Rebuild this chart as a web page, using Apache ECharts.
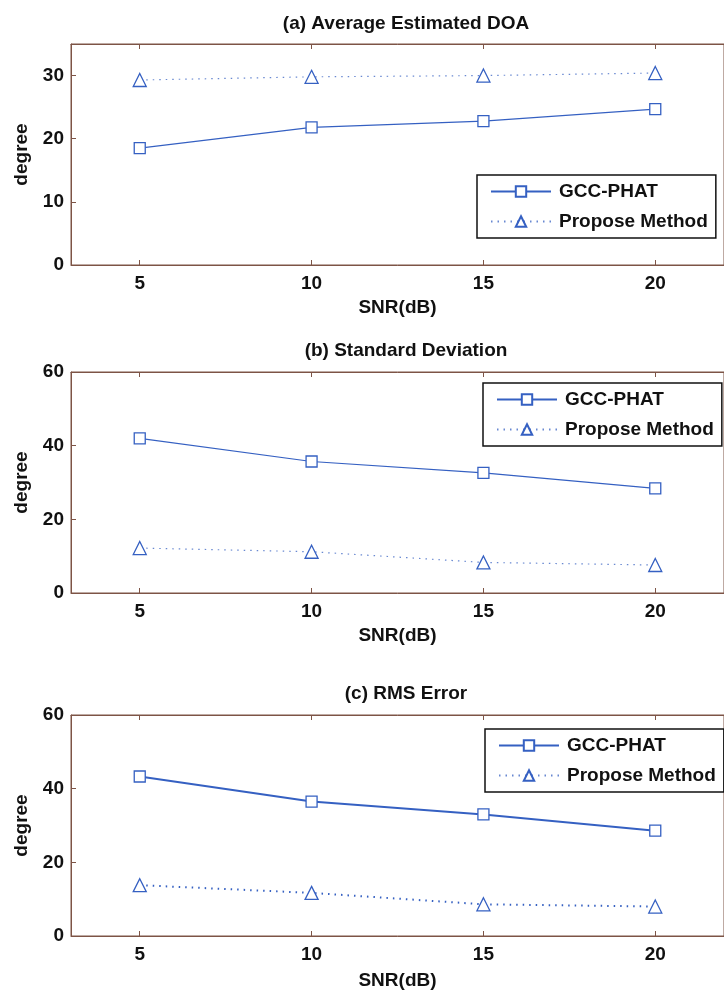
<!DOCTYPE html>
<html>
<head>
<meta charset="utf-8">
<script src="https://cdn.jsdelivr.net/npm/echarts@6/dist/echarts.min.js"></script>
<style>
  html, body { margin: 0; padding: 0; background: #ffffff; }
  #chart { width: 724px; height: 991px; }
</style>
</head>
<body>
<div id="chart"></div>
<script>
// SNR levels (dB) on the horizontal axis
const snr = [5, 10, 15, 20];
const snrTicks = [5, 10, 15, 20];

// (a) Average estimated DOA (degree)
const avgGcc = [18.5, 21.8, 22.8, 24.7];
const avgProposed = [29.3, 29.8, 30.0, 30.4];

// (b) Standard deviation (degree)
const stdGcc = [42.0, 35.7, 32.6, 28.4];
const stdProposed = [12.2, 11.2, 8.3, 7.6];

// (c) RMS error (degree)
const rmsGcc = [43.3, 36.5, 33.0, 28.6];
const rmsProposed = [13.8, 11.7, 8.6, 8.0];

const panelTitles = ['(a) Average Estimated DOA', '(b) Standard Deviation', '(c) RMS Error'];
const yTicksA = [0, 10, 20, 30];
const yTicksBC = [0, 20, 40, 60];
const seriesNames = ['GCC-PHAT', 'Propose Method'];

const FONT = '"Liberation Sans", Arial, sans-serif';
const AXIS_COLOR = '#7d5446';
const BLUE = '#3560c2';

const panels = [
  { top: 44,  height: 221, yMax: 35, yTicks: yTicksA,  gcc: avgGcc, prop: avgProposed, lw: 1.2, titleTop: 9,   legendTop: 175, legendLeft: 477 },
  { top: 372, height: 221, yMax: 60, yTicks: yTicksBC, gcc: stdGcc, prop: stdProposed, lw: 1.2, titleTop: 336, legendTop: 383, legendLeft: 483 },
  { top: 715, height: 222, yMax: 60, yTicks: yTicksBC, gcc: rmsGcc, prop: rmsProposed, lw: 2,   titleTop: 679, legendTop: 729, legendLeft: 485 }
];

const pairs = (ys) => snr.map((x, i) => [x, ys[i]]);

const option = {
  animation: false,
  backgroundColor: '#ffffff',
  title: [],
  legend: [],
  grid: [],
  xAxis: [],
  yAxis: [],
  series: []
};

panels.forEach((p, k) => {
  option.title.push({
    text: panelTitles[k],
    left: 401,
    top: p.titleTop,
    textAlign: 'center',
    textStyle: { fontFamily: FONT, fontSize: 19, fontWeight: 'bold', color: '#111111' }
  });

  option.grid.push({
    left: 71, top: p.top, width: 660, height: p.height,
    show: true, borderColor: AXIS_COLOR, borderWidth: 1, backgroundColor: '#ffffff'
  });

  // bottom axis with labels
  option.xAxis.push({
    type: 'value', gridIndex: k, min: 3, max: 22, position: 'bottom',
    name: 'SNR(dB)', nameLocation: 'middle', nameGap: k === 2 ? 35 : 33,
    nameTextStyle: { fontFamily: FONT, fontSize: 19, fontWeight: 'bold', color: '#111111' },
    axisLine: { show: true, lineStyle: { color: AXIS_COLOR, width: 1 } },
    axisTick: { show: true, inside: true, length: 5, customValues: snrTicks, lineStyle: { color: AXIS_COLOR } },
    axisLabel: { show: true, customValues: snrTicks, margin: 9, fontFamily: FONT, fontSize: 19, fontWeight: 'bold', color: '#111111' },
    splitLine: { show: false }
  });
  // top axis: ticks only
  option.xAxis.push({
    type: 'value', gridIndex: k, min: 3, max: 22, position: 'top',
    axisLine: { show: true, lineStyle: { color: AXIS_COLOR, width: 1 } },
    axisTick: { show: true, inside: true, length: 5, customValues: snrTicks, lineStyle: { color: AXIS_COLOR } },
    axisLabel: { show: false },
    splitLine: { show: false }
  });

  option.yAxis.push({
    type: 'value', gridIndex: k, min: 0, max: p.yMax,
    name: 'degree', nameLocation: 'middle', nameGap: 40,
    nameTextStyle: { fontFamily: FONT, fontSize: 19, fontWeight: 'bold', color: '#111111' },
    axisLine: { show: true, lineStyle: { color: AXIS_COLOR, width: 1 } },
    axisTick: { show: true, inside: true, length: 5, customValues: p.yTicks, lineStyle: { color: AXIS_COLOR } },
    axisLabel: { show: true, customValues: p.yTicks, margin: 7, fontFamily: FONT, fontSize: 19, fontWeight: 'bold', color: '#111111' },
    splitLine: { show: false }
  });

  option.series.push({
    name: seriesNames[0], type: 'line', xAxisIndex: 2 * k, yAxisIndex: k,
    data: pairs(p.gcc),
    symbol: 'rect', symbolSize: 11, showSymbol: true,
    lineStyle: { color: BLUE, width: p.lw, type: 'solid' },
    itemStyle: { color: '#ffffff', borderColor: BLUE, borderWidth: 1.3 }
  });
  option.series.push({
    name: seriesNames[1], type: 'line', xAxisIndex: 2 * k, yAxisIndex: k,
    data: pairs(p.prop),
    symbol: 'triangle', symbolSize: 13, showSymbol: true,
    lineStyle: { color: BLUE, width: p.lw, type: [1.5, 5], opacity: k === 2 ? 1 : 0.75 },
    itemStyle: { color: '#ffffff', borderColor: BLUE, borderWidth: 1.3 }
  });

  option.legend.push({
    data: seriesNames,
    orient: 'vertical',
    left: p.legendLeft, top: p.legendTop,
    padding: [7, 8, 7, 13],
    itemGap: 11,
    itemWidth: 60, itemHeight: 13,
    backgroundColor: '#ffffff',
    borderColor: '#111111', borderWidth: 1.5, borderRadius: 0,
    selectedMode: false,
    textStyle: { fontFamily: FONT, fontSize: 19, fontWeight: 'bold', color: '#111111', padding: [0, 0, 0, 3] }
  });
});

const chart = echarts.init(document.getElementById('chart'), null, { renderer: 'canvas' });
chart.setOption(option);
</script>
</body>
</html>
